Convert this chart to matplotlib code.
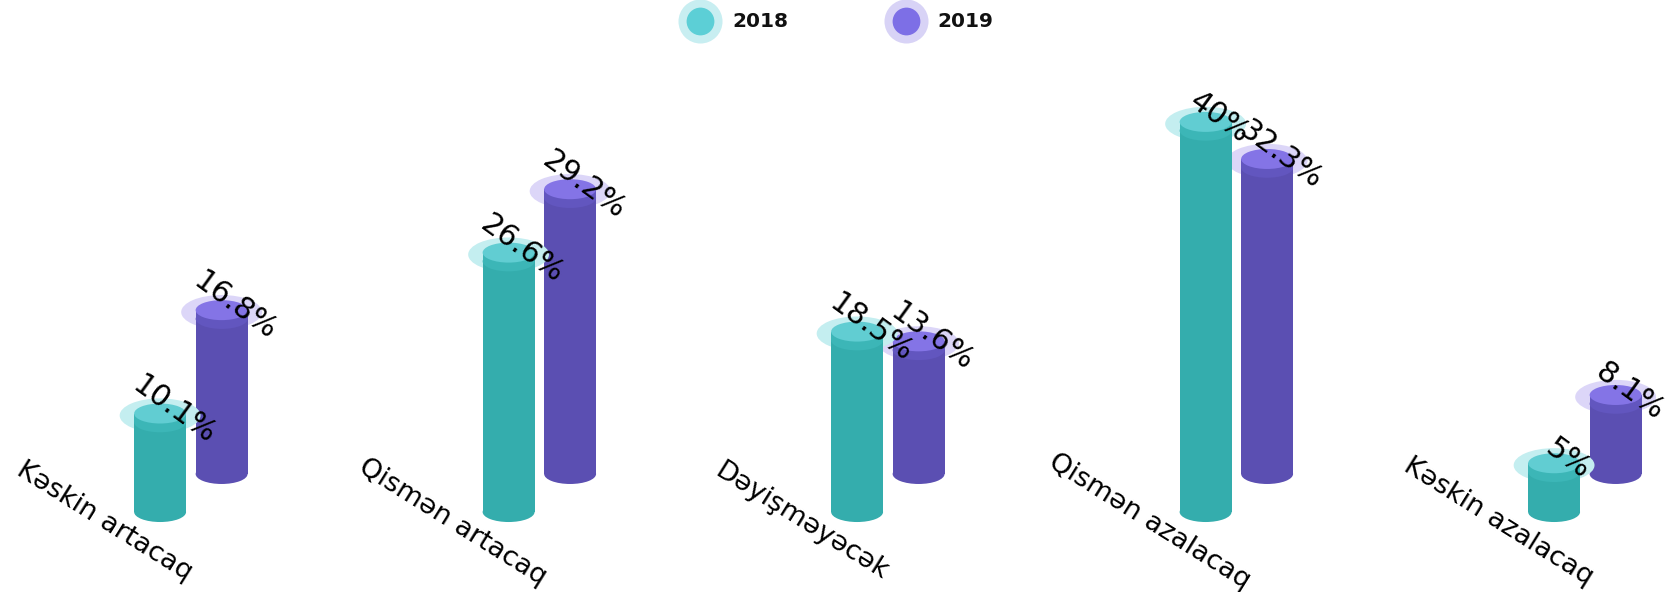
import matplotlib
matplotlib.use("Agg")
import matplotlib.pyplot as plt
from matplotlib.patches import Ellipse, Rectangle

categories = ["Kəskin artacaq", "Qismən artacaq", "Dəyişməyəcək", "Qismən azalacaq", "Kəskin azalacaq"]
series_names = ["2018", "2019"]
values_2018 = [10.1, 26.6, 18.5, 40, 5]
values_2019 = [16.8, 29.2, 13.6, 32.3, 8.1]
value_labels_2018 = ["10.1%", "26.6%", "18.5%", "40%", "5%"]
value_labels_2019 = ["16.8%", "29.2%", "13.6%", "32.3%", "8.1%"]

W, H, DPI = 16.69, 5.92, 100
fig = plt.figure(figsize=(W, H), dpi=DPI)
ax = fig.add_axes([0, 0, 1, 1])
ax.set_xlim(-0.4594, 4.3297)
ax.set_ylim(-8.2, 52.5)
ax.axis("off")

# geometry (in axis units)
cyl_w = 0.149
ell_h = 2.05
lid = 0.9
halo_w = 0.232
halo_h = 3.5
series_dx = [0.0, 0.1765]
series_base = [0.0, 3.9]

styles = [
    dict(body="#34adad", lid="#3cb6b7", top="#61cdd2", halo="#c4eef0"),
    dict(body="#5b4fb2", lid="#6256bf", top="#8474e6", halo="#dcd6f8"),
]

def cylinder(x, base, val, st, z):
    top = base + val
    ax.add_patch(Ellipse((x, top - 0.2), halo_w, halo_h, color=st["halo"], zorder=z, lw=0))
    ax.add_patch(Ellipse((x, base), cyl_w, ell_h, color=st["body"], zorder=z + 0.1, lw=0))
    ax.add_patch(Rectangle((x - cyl_w / 2, base), cyl_w, val - lid, color=st["body"], zorder=z + 0.1, lw=0))
    ax.add_patch(Ellipse((x, top - lid), cyl_w, ell_h, color=st["lid"], zorder=z + 0.2, lw=0))
    ax.add_patch(Rectangle((x - cyl_w / 2, top - lid), cyl_w, lid, color=st["lid"], zorder=z + 0.2, lw=0))
    ax.add_patch(Ellipse((x, top), cyl_w, ell_h, color=st["top"], zorder=z + 0.3, lw=0))

for i in range(len(categories)):
    # purple behind, teal in front
    for s, vals in ((1, values_2019), (0, values_2018)):
        z = 2 if s == 1 else 4
        cylinder(i + series_dx[s], series_base[s], vals[i], styles[s], z)

for i in range(len(categories)):
    for s, (vals, labs) in enumerate(((values_2018, value_labels_2018), (values_2019, value_labels_2019))):
        ax.text(i + series_dx[s] + 0.04, series_base[s] + vals[i] + 0.4, labs[i],
                rotation=-36, rotation_mode="anchor", ha="center", va="center",
                fontsize=21.5, color="black", family="DejaVu Sans", zorder=10)
    ax.text(i - 0.16, -1.0, categories[i], rotation=-32, rotation_mode="anchor",
            ha="center", va="center", fontsize=19.5, color="black",
            family="DejaVu Sans", zorder=10)

# legend
leg_x = [0.4194, 0.5428]
leg_tx = [0.4386, 0.5614]
leg_y = 0.9645
leg_inner = ["#5ccfd6", "#7d6fe6"]
leg_halo = ["#c8eef1", "#d8d3f6"]
for k in range(2):
    ax.scatter([leg_x[k]], [leg_y], s=1005, color=leg_halo[k], transform=ax.transAxes, zorder=5, lw=0)
    ax.scatter([leg_x[k]], [leg_y], s=400, color=leg_inner[k], transform=ax.transAxes, zorder=6, lw=0)
    ax.text(leg_tx[k], leg_y, series_names[k], transform=ax.transAxes, ha="left", va="center",
            fontsize=14.5, fontweight="bold", color="#111111", family="DejaVu Sans")

fig.savefig("out.png", dpi=DPI)
